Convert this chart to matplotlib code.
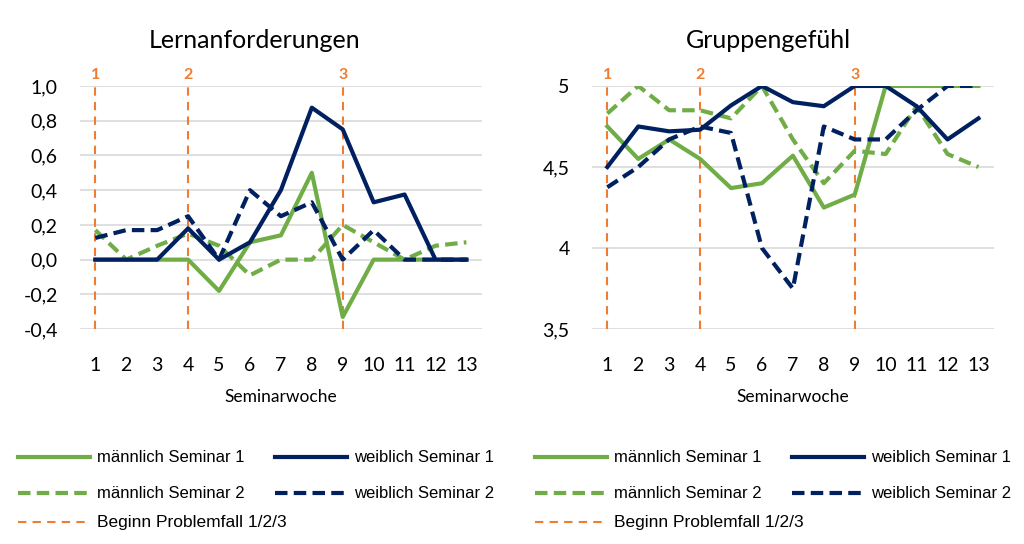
import matplotlib
matplotlib.use("Agg")
import matplotlib.pyplot as plt
from matplotlib.lines import Line2D
from matplotlib.ticker import FuncFormatter, FixedLocator

plt.rcParams['font.family'] = ['Lato', 'DejaVu Sans']

weeks = list(range(1, 14))
problem_weeks = [1, 4, 9]
problem_labels = ["1", "2", "3"]

# Lernanforderungen
lern_m_s1 = [0, 0, 0, 0, -0.18, 0.1, 0.14, 0.5, -0.33, 0, 0, 0, 0]
lern_w_s1 = [0, 0, 0, 0.18, 0, 0.1, 0.4, 0.875, 0.75, 0.33, 0.375, 0, 0]
lern_m_s2 = [0.17, 0, 0.08, 0.15, 0.08, -0.09, 0, 0, 0.2, 0.1, 0, 0.08, 0.1]
lern_w_s2 = [0.125, 0.17, 0.17, 0.25, 0, 0.4, 0.25, 0.33, 0, 0.17, 0, 0, 0]
lern_ticks = [-0.4, -0.2, 0.0, 0.2, 0.4, 0.6, 0.8, 1.0]

# Gruppengefühl
grp_m_s1 = [4.75, 4.55, 4.67, 4.55, 4.37, 4.4, 4.57, 4.25, 4.33, 5.0, 5.0, 5.0, 5.0]
grp_w_s1 = [4.5, 4.75, 4.72, 4.73, 4.88, 5.0, 4.9, 4.875, 5.0, 5.0, 4.875, 4.67, 4.8]
grp_m_s2 = [4.83, 5.0, 4.85, 4.85, 4.8, 5.0, 4.67, 4.4, 4.6, 4.58, 4.875, 4.58, 4.5]
grp_w_s2 = [4.375, 4.5, 4.67, 4.75, 4.71, 4.0, 3.75, 4.75, 4.67, 4.67, 4.85, 5.0, 5.0]
grp_ticks = [3.5, 4.0, 4.5, 5.0]

series_labels = ["männlich Seminar 1", "weiblich Seminar 1",
                 "männlich Seminar 2", "weiblich Seminar 2"]
problem_label = "Beginn Problemfall 1/2/3"

GREEN = "#70AD47"
NAVY = "#002060"
ORANGE = "#ED7D31"
GRID = "#D9D9D9"
DASH = (0, (3, 1.5))
ODASH = (0, (4, 3))

W, H = 1024, 544


def comma_fmt(decimals):
    def f(v, pos):
        if decimals == 0 and abs(v - round(v)) < 1e-9:
            return str(int(round(v)))
        s = f"{v:.1f}".replace(".", ",")
        return s.replace("-0,0", "0,0")
    return FuncFormatter(f)


def legend_entry(fig, x0, y, color, ls, lw, text, size=12):
    # x0, y in pixels from top-left
    fig.add_artist(Line2D([x0 / W, (x0 + 72) / W], [1 - y / H, 1 - y / H],
                          color=color, ls=ls, lw=lw, transform=fig.transFigure))
    fig.text((x0 + 79) / W, 1 - y / H, text, fontsize=size, ha="left", va="center",
             family=["Liberation Sans", "DejaVu Sans"])


def draw_panel(fig, rect, title, title_x, series, yticks, ylim, decimals, leg_x):
    ax = fig.add_axes(rect)
    m1, w1, m2, w2 = series
    ax.plot(weeks, m1, color=GREEN, lw=3, zorder=3)
    ax.plot(weeks, w1, color=NAVY, lw=3, zorder=4)
    ax.plot(weeks, m2, color=GREEN, lw=3, ls=DASH, zorder=3)
    ax.plot(weeks, w2, color=NAVY, lw=3, ls=DASH, zorder=4)
    for wk, lab in zip(problem_weeks, problem_labels):
        ax.axvline(wk, ymin=0, ymax=1.0, color=ORANGE, lw=1.5, ls=ODASH, zorder=2)
        ax.text(wk, 1.015, lab, transform=ax.get_xaxis_transform(), color=ORANGE,
                fontsize=11.5, fontweight="bold", ha="center", va="bottom")

    ax.set_xlim(0.5, 13.5)
    ax.set_ylim(*ylim)
    ax.yaxis.set_major_locator(FixedLocator(yticks))
    ax.yaxis.set_major_formatter(comma_fmt(decimals))
    ax.set_xticks(weeks)
    ax.grid(axis="y", color=GRID, lw=1.2, zorder=0)
    ax.set_axisbelow(True)
    for s in ax.spines.values():
        s.set_visible(False)
    ax.tick_params(axis="both", length=0, labelsize=14)
    ax.tick_params(axis="y", pad=16)
    ax.tick_params(axis="x", pad=20)
    ax.set_xlabel("Seminarwoche", fontsize=12.5, labelpad=11)

    fig.text(title_x, 0.926, title, fontsize=18, ha="center", va="center")

    # legend laid out like the original two-column block
    legend_entry(fig, leg_x, 457, GREEN, "-", 3, series_labels[0])
    legend_entry(fig, leg_x + 257, 457, NAVY, "-", 3, series_labels[1])
    legend_entry(fig, leg_x, 493, GREEN, DASH, 3, series_labels[2])
    legend_entry(fig, leg_x + 257, 493, NAVY, DASH, 3, series_labels[3])
    legend_entry(fig, leg_x, 522, ORANGE, ODASH, 1.5, problem_label, size=12.5)
    return ax


fig = plt.figure(figsize=(10.24, 5.44), dpi=100)

draw_panel(fig, [0.078, 0.395, 0.3926, 0.447], "Lernanforderungen", 255 / 1024,
           (lern_m_s1, lern_w_s1, lern_m_s2, lern_w_s2), lern_ticks, (-0.4, 1.0), 1, 18)
draw_panel(fig, [0.578, 0.395, 0.3926, 0.447], "Gruppengefühl", 768 / 1024,
           (grp_m_s1, grp_w_s1, grp_m_s2, grp_w_s2), grp_ticks, (3.5, 5.0), 0, 535)

fig.savefig("out.png", dpi=100)
